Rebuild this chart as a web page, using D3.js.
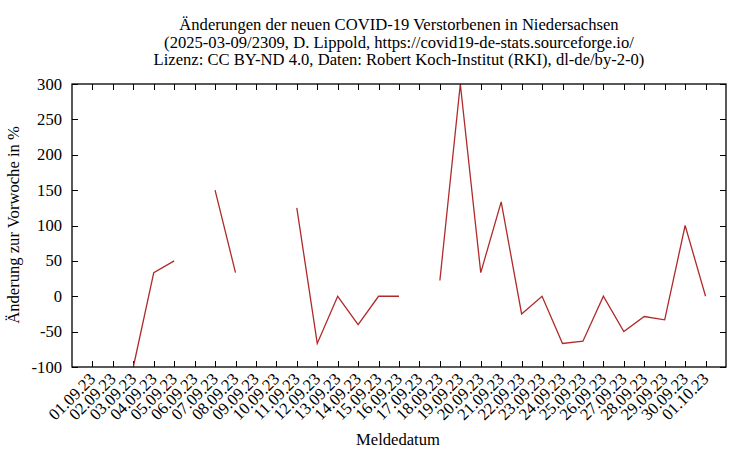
<!DOCTYPE html>
<html><head><meta charset="utf-8">
<script src="https://cdn.jsdelivr.net/npm/d3@7"></script>
<style>body{margin:0;background:#fff}svg{display:block}text{font-family:"Liberation Serif","Times New Roman",serif;fill:#000}</style>
</head><body><svg id="c" width="750" height="450"></svg>
<script>
const dates = ["01.09.23","02.09.23","03.09.23","04.09.23","05.09.23","06.09.23","07.09.23","08.09.23","09.09.23","10.09.23","11.09.23","12.09.23","13.09.23","14.09.23","15.09.23","16.09.23","17.09.23","18.09.23","19.09.23","20.09.23","21.09.23","22.09.23","23.09.23","24.09.23","25.09.23","26.09.23","27.09.23","28.09.23","29.09.23","30.09.23","01.10.23"];
const values = [null,null,-100,33.3,50,null,150,33.3,null,null,125,-66.7,0,-40,0,0,null,22.2,300,33.3,133.3,-25,0,-66.7,-63.6,0,-50,-28.6,-33.3,100,0];
const yTicks = [-100,-50,0,50,100,150,200,250,300];
const titleLines = ["Änderungen der neuen COVID-19 Verstorbenen in Niedersachsen","(2025-03-09/2309, D. Lippold, https://covid19-de-stats.sourceforge.io/","Lizenz: CC BY-ND 4.0, Daten: Robert Koch-Institut (RKI), dl-de/by-2-0)"];

const svg = d3.select("#c");
const L=72, R=726, T=84, B=367;
const x = d3.scaleLinear().domain([-1, dates.length]).range([L, R]);
const y = d3.scaleLinear().domain([-100, 300]).range([B, T]);
const fs = 16.6;

// title
svg.append("g").selectAll("text").data(titleLines).join("text")
  .attr("x", 399).attr("y", (d,i)=>30+i*17.6).attr("text-anchor","middle")
  .attr("font-size", fs).text(d=>d);

// y ticks (inner, mirrored)
const tl = 6;
const g = svg.append("g").attr("stroke","#000").attr("stroke-width",1);
yTicks.forEach(v=>{
  const yy = Math.round(y(v))+0.5;
  g.append("line").attr("x1",L).attr("x2",L+tl).attr("y1",yy).attr("y2",yy);
  g.append("line").attr("x1",R).attr("x2",R-tl).attr("y1",yy).attr("y2",yy);
});
svg.append("g").selectAll("text").data(yTicks).join("text")
  .attr("x", 62).attr("y", d=>y(d)+5.5).attr("text-anchor","end")
  .attr("font-size", fs).text(d=>d);

// x ticks
dates.forEach((d,i)=>{
  const xx = Math.round(x(i))+0.5;
  g.append("line").attr("x1",xx).attr("x2",xx).attr("y1",B).attr("y2",B-tl);
  g.append("line").attr("x1",xx).attr("x2",xx).attr("y1",T).attr("y2",T+tl);
});
svg.append("g").selectAll("text").data(dates).join("text")
  .attr("transform",(d,i)=>`translate(${x(i)+4},${B+13}) rotate(-45)`)
  .attr("text-anchor","end").attr("font-size", fs).text(d=>d);

// line
const line = d3.line().defined(d=>d!=null).x((d,i)=>x(i)).y(d=>y(d));
svg.append("path").datum(values).attr("d", line)
  .attr("fill","none").attr("stroke","#b02a2a").attr("stroke-width",1.3);

// border
svg.append("rect").attr("x",L).attr("y",T).attr("width",R-L).attr("height",B-T)
  .attr("fill","none").attr("stroke","#000").attr("stroke-width",1.3);

// axis labels
svg.append("text").attr("x",398).attr("y",445).attr("text-anchor","middle").attr("font-size",fs).text("Meldedatum");
svg.append("text").attr("transform","translate(19,225) rotate(-90)").attr("text-anchor","middle").attr("font-size",fs).text("Änderung zur Vorwoche in %");
</script></body></html>
